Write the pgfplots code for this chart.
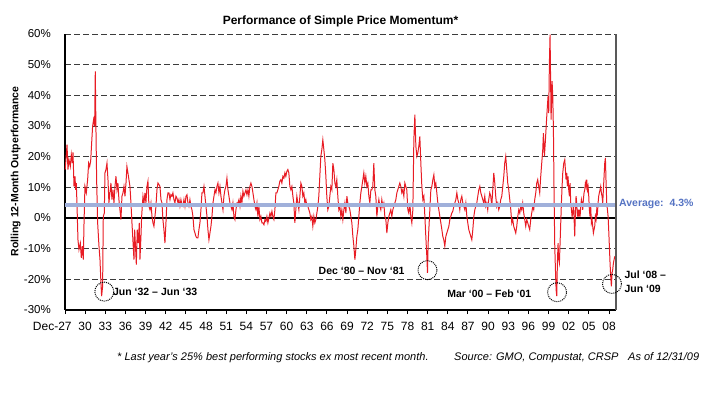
\documentclass[border=0pt]{standalone}
\usepackage{fontspec}
\setmainfont{Liberation Sans}
\usepackage{pgfplots}
\pgfplotsset{compat=1.18}
\definecolor{momred}{RGB}{232,28,36}
\definecolor{avgblue}{RGB}{160,176,218}
\definecolor{avgtext}{RGB}{85,115,195}
\definecolor{gridgray}{RGB}{60,60,60}
\newcommand{\annfont}{\bfseries\fontsize{10.5bp}{14bp}\selectfont}
\begin{document}
\begin{tikzpicture}[x=1bp,y=1bp]
\useasboundingbox (0,0) rectangle (709,392);
\node[font=\bfseries\fontsize{12bp}{14bp}\selectfont] at (340.5,370.5) {Performance of Simple Price Momentum*};
\node[rotate=90, font=\bfseries\fontsize{10.5bp}{12bp}\selectfont] at (15.7,220.5) {Rolling 12-Month Outperformance};
\begin{axis}[
  at={(65bp,82bp)}, anchor=south west,
  scale only axis, width=551bp, height=276bp,
  xmin=1927.92, xmax=2009.96, ymin=-30, ymax=60,
  axis x line*=bottom, axis y line*=left,
  axis line style={black, line width=1.1pt},
  clip=false,
  xtick={1927.92,1930.92,...,2008.92},
  xticklabels={\llap{Dec-}27,30,33,36,39,42,45,48,51,54,57,60,63,66,69,72,75,78,81,84,87,90,93,96,99,02,05,08},
  ytick={-30,-20,...,60},
  yticklabels={-30\%,-20\%,-10\%,0\%,10\%,20\%,30\%,40\%,50\%,60\%},
  tick align=outside,
  major tick length=4bp,
  xtick style={black, line width=1pt},
  ytick style={draw=none},
  xticklabel style={font=\fontsize{12bp}{14bp}\selectfont, anchor=north, inner sep=0pt, yshift=-8bp},
  yticklabel style={font=\fontsize{11.5bp}{13bp}\selectfont, anchor=east, inner sep=0pt, xshift=-10bp},
  ymajorgrids,
  major grid style={gridgray, line width=0.9pt, dash pattern=on 6bp off 3bp},
]
\addplot[black, line width=1.1pt, forget plot] coordinates {(1927.92,0) (2009.96,0)};
\addplot[momred, line width=1pt] coordinates {
(1927.95,15.8) (1928.22,23.9) (1928.36,15.8) (1928.51,19.0) (1928.71,16.8) (1928.86,20.7) (1929.01,17.9) (1929.11,21.4) (1929.26,10.3) (1929.41,13.6) (1929.50,9.2) (1929.60,11.4) (1929.70,4.9) (1929.85,-7.1) (1930.00,-10.3) (1930.20,-8.2) (1930.35,-13.0) (1930.50,-9.2) (1930.65,-13.6) (1930.74,-2.7) (1930.89,10.3) (1931.09,8.2) (1931.29,12.5) (1931.44,17.9) (1931.59,16.8) (1931.74,18.5) (1931.89,24.5) (1932.03,29.9) (1932.18,32.1) (1932.33,29.9) (1932.43,47.8) (1932.53,28.8) (1932.63,12.5) (1932.78,-1.6) (1932.98,-9.2) (1933.13,-13.6) (1933.27,-21.2) (1933.37,-25.5) (1933.52,-22.3) (1933.62,0.5) (1933.77,1.6) (1933.87,14.7) (1934.02,15.8) (1934.17,17.9) (1934.32,12.5) (1934.46,4.9) (1934.61,8.2) (1934.76,11.4) (1934.91,6.0) (1935.06,9.2) (1935.21,4.9) (1935.36,10.3) (1935.51,13.6) (1935.66,9.2) (1935.80,11.4) (1935.95,6.0) (1936.10,2.7) (1936.25,-0.5) (1936.40,7.1) (1936.55,8.2) (1936.70,10.3) (1936.85,7.1) (1937.00,11.4) (1937.14,16.8) (1937.29,14.7) (1937.44,12.5) (1937.59,10.3) (1937.74,4.9) (1937.89,-1.6)
(1938.19,-13.6) (1938.29,-3.8) (1938.44,-10.3) (1938.54,-15.2) (1938.68,-3.8) (1938.83,-8.2) (1938.98,-1.6) (1939.08,-13.6) (1939.23,-6.0) (1939.33,0.5) (1939.43,3.8) (1939.53,7.1) (1939.68,4.9) (1939.83,8.2) (1939.97,4.9) (1940.12,10.3) (1940.27,12.0) (1940.42,3.8) (1940.57,2.7) (1940.72,4.9) (1940.87,0.5) (1941.02,-1.6) (1941.16,-2.7) (1941.31,0.5) (1941.46,3.8) (1941.61,9.2) (1941.76,11.4) (1941.91,10.9) (1942.06,10.3) (1942.21,6.0) (1942.36,4.9) (1942.50,-0.5) (1942.65,-3.8) (1942.80,-8.2) (1942.95,-1.6) (1943.10,6.0) (1943.25,8.2) (1943.40,8.2) (1943.55,6.0) (1943.69,7.6) (1943.84,7.1) (1943.99,8.2) (1944.14,6.0) (1944.29,4.9) (1944.44,7.1) (1944.59,6.5) (1944.74,4.9) (1944.88,6.0) (1945.03,3.8) (1945.18,6.0) (1945.33,4.3) (1945.48,3.8) (1945.63,6.0) (1945.78,3.8) (1945.93,7.1) (1946.08,7.6) (1946.22,4.9) (1946.37,3.8) (1946.52,6.0) (1946.67,3.8) (1946.82,2.7) (1946.97,0.5) (1947.12,-3.8) (1947.27,-4.9) (1947.41,-6.0) (1947.56,-6.5) (1947.71,-6.5) (1947.86,-3.8) (1948.01,-1.6) (1948.16,2.7) (1948.31,8.2)
(1948.46,8.2) (1948.61,10.3) (1948.76,7.1) (1948.91,3.8) (1949.06,0.5) (1949.20,-3.8) (1949.35,-7.1) (1949.50,-4.9) (1949.65,-2.7) (1949.80,0.5) (1949.95,4.9) (1950.10,7.1) (1950.25,9.2) (1950.39,8.2) (1950.54,10.3) (1950.69,11.4) (1950.84,8.2) (1950.99,10.3) (1951.14,7.1) (1951.29,4.9) (1951.44,2.7) (1951.58,7.1) (1951.73,9.2) (1951.88,10.3) (1952.03,13.0) (1952.18,9.2) (1952.33,7.1) (1952.48,4.9) (1952.63,3.8) (1952.78,2.7) (1952.92,4.9) (1953.07,0.5) (1953.22,-0.5) (1953.37,2.7) (1953.52,4.9) (1953.67,4.9) (1953.82,6.0) (1953.97,3.8) (1954.11,7.1) (1954.26,4.9) (1954.41,8.7) (1954.56,7.1) (1954.71,8.2) (1954.86,9.2) (1955.01,7.6) (1955.16,9.2) (1955.30,7.1) (1955.45,10.3) (1955.60,11.4) (1955.75,10.3) (1955.90,8.2) (1956.05,6.0) (1956.20,3.8) (1956.35,2.7) (1956.50,4.9) (1956.64,0.5) (1956.79,3.8) (1956.94,-0.5) (1957.09,0.5) (1957.24,-1.6) (1957.39,-1.6) (1957.54,-2.2) (1957.69,-0.5) (1957.83,-1.1) (1957.98,0.5) (1958.13,-1.6) (1958.28,0.0) (1958.43,1.6) (1958.58,0.5) (1958.73,2.2)
(1958.87,0.5) (1959.02,-0.5) (1959.17,2.7) (1959.32,8.2) (1959.47,8.2) (1959.61,9.2) (1959.76,10.3) (1959.91,12.0) (1960.06,12.5) (1960.21,11.4) (1960.36,13.6) (1960.51,13.0) (1960.66,14.7) (1960.80,13.6) (1960.95,15.2) (1961.10,15.8) (1961.25,14.7) (1961.40,10.3) (1961.55,9.2) (1961.70,10.3) (1961.85,7.1) (1961.99,4.9) (1962.14,-1.6) (1962.29,2.7) (1962.44,7.1) (1962.59,4.9) (1962.74,2.7) (1962.89,7.1) (1963.04,11.4) (1963.19,10.3) (1963.33,7.1) (1963.48,8.2) (1963.63,4.9) (1963.78,6.0) (1963.93,3.8) (1964.08,3.8) (1964.23,2.7) (1964.38,1.6) (1964.52,-0.5) (1964.67,0.5) (1964.82,-2.7) (1964.97,0.5) (1965.12,-1.6) (1965.27,-0.5) (1965.42,1.6) (1965.57,3.8) (1965.71,7.1) (1965.86,13.6) (1966.01,20.1) (1966.16,22.3) (1966.31,25.5) (1966.46,22.3) (1966.61,19.0) (1966.76,13.6) (1966.90,7.1) (1967.05,2.7) (1967.20,3.8) (1967.35,7.1) (1967.50,10.3) (1967.65,9.2) (1967.80,17.9) (1967.95,15.8) (1968.10,11.4) (1968.24,10.3) (1968.39,12.5) (1968.54,7.1) (1968.69,2.7) (1968.84,3.8) (1968.99,0.5) (1969.14,2.7)
(1969.29,-0.5) (1969.44,2.7) (1969.59,4.9) (1969.74,1.6) (1969.89,7.1) (1970.03,4.9) (1970.18,3.8) (1970.33,2.7) (1970.48,0.5) (1970.63,-1.6) (1970.78,-6.0) (1970.93,-9.2) (1971.08,-13.6) (1971.22,-10.3) (1971.37,-6.0) (1971.52,-3.8) (1971.67,0.5) (1971.82,4.9) (1971.97,8.2) (1972.12,10.3) (1972.27,12.5) (1972.41,14.7) (1972.56,11.4) (1972.71,13.6) (1972.86,10.3) (1973.01,11.4) (1973.16,7.1) (1973.31,4.9) (1973.46,9.2) (1973.60,9.2) (1973.75,10.3) (1973.90,17.9) (1974.05,9.2) (1974.20,7.1) (1974.35,0.5) (1974.50,3.8) (1974.65,6.0) (1974.80,3.8) (1974.94,2.7) (1975.09,6.0) (1975.24,3.8) (1975.39,4.9) (1975.54,0.5) (1975.69,-0.5) (1975.84,-4.9) (1975.99,-1.6) (1976.13,0.5) (1976.28,1.6) (1976.43,2.7) (1976.58,0.5) (1976.73,2.7) (1976.88,3.8) (1977.03,4.9) (1977.18,6.0) (1977.33,8.2) (1977.47,9.2) (1977.62,10.3) (1977.77,11.4) (1977.92,10.3) (1978.07,8.2) (1978.22,9.2) (1978.37,7.1) (1978.52,11.4) (1978.66,10.3) (1978.81,9.2) (1978.96,2.7) (1979.11,1.6) (1979.26,4.9) (1979.41,0.5) (1979.56,-1.6) (1979.71,2.7)
(1979.86,25.5) (1980.01,33.7) (1980.16,23.4) (1980.31,20.1) (1980.45,21.2) (1980.60,23.4) (1980.75,26.6) (1980.90,17.9) (1981.05,10.3) (1981.20,6.0) (1981.35,7.1) (1981.50,0.5) (1981.64,-6.0) (1981.79,-12.5) (1981.89,-17.9) (1981.99,-8.2) (1982.09,-3.8) (1982.24,2.7) (1982.39,9.2) (1982.54,10.3) (1982.69,12.5) (1982.84,14.1) (1982.98,10.3) (1983.13,11.4) (1983.28,8.2) (1983.43,4.9) (1983.58,2.7) (1983.73,0.5) (1983.88,-1.6) (1984.03,-3.8) (1984.17,-6.0) (1984.32,-7.1) (1984.47,-9.2) (1984.62,-6.0) (1984.77,-4.9) (1984.92,-3.8) (1985.07,-2.7) (1985.22,-0.5) (1985.36,0.5) (1985.51,1.6) (1985.66,2.2) (1985.81,3.8) (1985.96,4.9) (1986.11,6.0) (1986.26,8.2) (1986.41,6.0) (1986.55,4.9) (1986.70,2.7) (1986.85,6.0) (1987.00,7.1) (1987.15,4.9) (1987.30,3.8) (1987.45,2.7) (1987.60,4.9) (1987.75,0.5) (1987.89,-1.6) (1988.04,-3.8) (1988.19,-4.9) (1988.34,-6.0) (1988.49,-7.1) (1988.64,-3.8) (1988.79,0.5) (1988.94,2.7) (1989.08,3.8) (1989.23,4.9) (1989.38,7.1) (1989.53,9.2) (1989.68,10.3) (1989.83,8.2) (1989.98,7.1)
(1990.12,6.0) (1990.27,4.9) (1990.42,7.1) (1990.57,3.8) (1990.72,4.9) (1990.86,2.7) (1991.01,6.0) (1991.16,8.2) (1991.31,7.1) (1991.46,3.8) (1991.61,9.2) (1991.76,14.7) (1991.91,11.4) (1992.05,7.1) (1992.20,3.8) (1992.35,4.9) (1992.50,2.7) (1992.65,3.8) (1992.80,6.0) (1992.95,7.1) (1993.10,10.3) (1993.25,13.6) (1993.39,17.9) (1993.54,20.1) (1993.69,15.8) (1993.84,11.4) (1993.99,9.2) (1994.14,6.0) (1994.29,2.7) (1994.44,-1.6) (1994.58,-0.5) (1994.73,-2.7) (1994.88,-3.8) (1995.03,-4.9) (1995.18,-2.7) (1995.33,0.5) (1995.48,2.7) (1995.63,1.6) (1995.77,3.8) (1995.92,2.7) (1996.07,4.9) (1996.22,1.6) (1996.37,-0.5) (1996.52,-2.7) (1996.67,-0.5) (1996.82,-1.6) (1996.96,-2.7) (1997.11,-3.8) (1997.26,-0.5) (1997.41,1.6) (1997.56,3.8) (1997.71,2.7) (1997.86,6.0) (1998.01,8.2) (1998.16,11.4) (1998.30,12.5) (1998.45,10.3) (1998.60,8.2) (1998.75,13.6) (1998.90,17.9) (1999.05,22.3) (1999.15,27.7) (1999.30,20.1) (1999.45,25.5) (1999.59,31.0) (1999.74,36.4) (1999.84,39.7) (1999.94,34.2) (2000.04,50.5) (2000.14,59.8) (2000.29,32.1) (2000.44,44.6) (2000.54,40.0) (2000.64,28.8)
(2000.74,7.1) (2000.84,-9.2) (2000.94,-16.8) (2001.04,-23.4) (2001.14,-25.5) (2001.23,-14.7) (2001.33,-8.2) (2001.43,-13.6) (2001.53,-14.7) (2001.63,-8.2) (2001.73,-1.6) (2001.83,4.9) (2001.93,10.3) (2002.03,14.7) (2002.18,17.9) (2002.33,19.0) (2002.42,15.8) (2002.52,12.5) (2002.62,14.7) (2002.72,10.3) (2002.82,13.6) (2002.92,9.2) (2003.02,7.1) (2003.12,11.4) (2003.22,4.9) (2003.32,2.7) (2003.42,0.5) (2003.52,1.6) (2003.62,4.9) (2003.71,0.5) (2003.81,-6.0) (2003.91,1.6) (2004.01,7.1) (2004.11,4.9) (2004.21,0.5) (2004.31,2.7) (2004.41,0.5) (2004.51,2.7) (2004.61,0.5) (2004.71,3.8) (2004.81,6.0) (2004.91,4.9) (2005.00,2.7) (2005.10,6.0) (2005.20,8.2) (2005.30,9.2) (2005.40,11.4) (2005.50,10.3) (2005.60,12.5) (2005.70,9.2) (2005.80,10.3) (2005.90,7.1) (2005.99,2.7) (2006.09,0.5) (2006.19,3.8) (2006.29,-1.6) (2006.39,-0.5) (2006.49,-2.7) (2006.59,-4.9) (2006.69,-3.8) (2006.79,-2.7) (2006.89,0.5) (2006.99,-0.5) (2007.09,2.7) (2007.19,1.6) (2007.29,4.9) (2007.38,7.1) (2007.48,8.2) (2007.58,9.2) (2007.68,10.3) (2007.78,8.2) (2007.88,7.1) (2007.98,4.9) (2008.08,9.2) (2008.18,13.6) (2008.28,17.9) (2008.38,19.6) (2008.48,11.4) (2008.58,4.9) (2008.68,2.7) (2008.78,0.5) (2008.87,-3.8) (2008.97,-9.2) (2009.07,-14.7) (2009.17,-19.0) (2009.27,-22.3) (2009.37,-17.9) (2009.47,-16.8) (2009.57,-14.7) (2009.67,-13.6) (2009.77,-12.5)
};
\addplot[avgblue, line width=3.5pt] coordinates {(1927.92,4.3) (2009.96,4.3)};
\draw[black!65, line width=1.5pt] (rel axis cs:1,0) -- (rel axis cs:1,1);
\draw[black, densely dotted, line width=1pt] (axis cs:1933.77,-24.0) circle[radius=9.5bp];
\draw[black, densely dotted, line width=1pt] (axis cs:1981.89,-17.0) circle[radius=9.5bp];
\draw[black, densely dotted, line width=1pt] (axis cs:2001.18,-24.2) circle[radius=9.5bp];
\draw[black, densely dotted, line width=1pt] (axis cs:2009.36,-21.5) circle[radius=9.5bp];
\node[anchor=west, inner sep=0pt, font=\annfont] at (axis cs:1935.06,-24.0) {Jun ‘32 – Jun ‘33};
\node[anchor=east, inner sep=0pt, font=\annfont] at (axis cs:1978.5,-17.3) {Dec ‘80 – Nov ‘81};
\node[anchor=center, inner sep=0pt, font=\annfont] at (axis cs:1991.09,-24.6) {Mar ‘00 – Feb ‘01};
\node[anchor=west, inner sep=0pt, align=left, font=\annfont] at (axis cs:2011.2,-20.9) {Jul ‘08 –\\Jun ‘09};
\node[anchor=west, inner sep=0pt, text=avgtext, font=\annfont] at (axis cs:2010.4,4.6) {Average:\ \ 4.3\%};
\end{axis}
\node[anchor=base west, inner sep=0pt, font=\itshape\fontsize{11bp}{13bp}\selectfont] at (117,32) {* Last year's 25\% best performing stocks ex most recent month.};
\node[anchor=base west, inner sep=0pt, font=\itshape\fontsize{11bp}{13bp}\selectfont] at (454,32) {Source: GMO, Compustat, CRSP};
\node[anchor=base west, inner sep=0pt, font=\itshape\fontsize{11bp}{13bp}\selectfont] at (628,32) {As of 12/31/09};
\end{tikzpicture}
\end{document}
